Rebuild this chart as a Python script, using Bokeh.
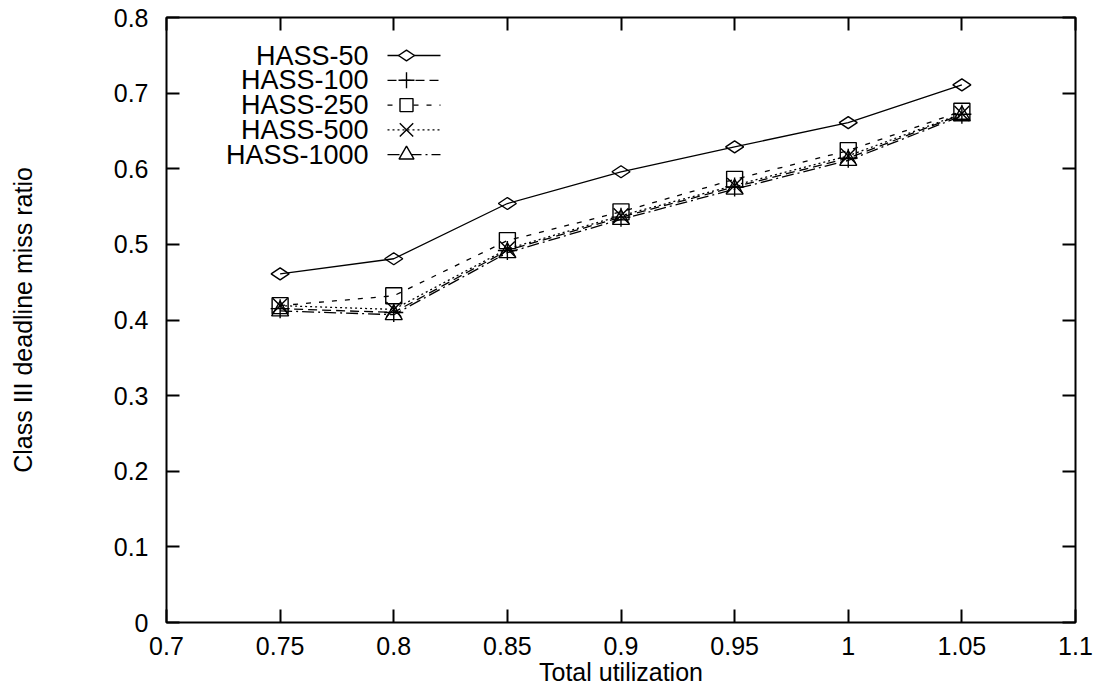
from bokeh.plotting import figure
from bokeh.models import (LinearAxis, FixedTicker, NumeralTickFormatter, Range1d,
                          Label, CustomLabelingPolicy)
from bokeh.embed import file_html
from bokeh.resources import INLINE
import math

# ---- data ----
utilization = [0.75, 0.80, 0.85, 0.90, 0.95, 1.00, 1.05]
hass_50 = [0.461, 0.481, 0.554, 0.596, 0.629, 0.661, 0.711]
hass_100 = [0.415, 0.410, 0.492, 0.536, 0.576, 0.614, 0.672]
hass_250 = [0.419, 0.432, 0.505, 0.543, 0.586, 0.624, 0.676]
hass_500 = [0.419, 0.414, 0.494, 0.538, 0.578, 0.617, 0.673]
hass_1000 = [0.412, 0.407, 0.489, 0.533, 0.573, 0.611, 0.670]
series_names = ["HASS-50", "HASS-100", "HASS-250", "HASS-500", "HASS-1000"]
x_ticks = [0.7, 0.75, 0.8, 0.85, 0.9, 0.95, 1.0, 1.05, 1.1]
y_ticks = [0, 0.1, 0.2, 0.3, 0.4, 0.5, 0.6, 0.7, 0.8]

FONT = "Liberation Sans"
FS = "25px"
FRAME_W, FRAME_H = 909, 605

p = figure(frame_width=FRAME_W, frame_height=FRAME_H,
           x_range=Range1d(0.7, 1.1), y_range=Range1d(0, 0.8),
           output_backend="svg", toolbar_location=None,
           min_border_left=166, min_border_right=26,
           min_border_top=17, min_border_bottom=66)
p.xgrid.visible = False
p.ygrid.visible = False
p.outline_line_color = "black"
p.outline_line_width = 2
p.background_fill_color = "white"
p.border_fill_color = "white"

# pixel-like coordinate system (origin at top-left of the frame) for the legend
p.extra_x_ranges = {"px": Range1d(0, FRAME_W)}
p.extra_y_ranges = {"px": Range1d(FRAME_H, 0)}

no_labels = CustomLabelingPolicy(code="for (const i of indices) { indices.unset(i) }\nreturn indices")

def style_axis(ax, labels=True):
    ax.axis_line_color = None
    ax.major_tick_in = 13
    ax.major_tick_out = 0
    ax.major_tick_line_width = 2
    ax.major_tick_line_color = "black"
    ax.minor_tick_line_color = None
    ax.major_label_text_font = FONT
    ax.major_label_text_font_size = FS
    ax.major_label_text_color = "black"
    ax.axis_label_text_font = FONT
    ax.axis_label_text_font_size = FS
    ax.axis_label_text_font_style = "normal"
    ax.axis_label_text_color = "black"
    if not labels:
        ax.major_label_policy = no_labels
        ax.major_label_standoff = 0
        ax.major_label_text_font_size = "1px"

xa = p.xaxis[0]
xa.ticker = FixedTicker(ticks=x_ticks)
xa.formatter = NumeralTickFormatter(format="0.[00]")
xa.axis_label = "Total utilization"
style_axis(xa)
xa.major_label_standoff = 14
xa.axis_label_standoff = 0

ya = p.yaxis[0]
ya.ticker = FixedTicker(ticks=y_ticks)
ya.formatter = NumeralTickFormatter(format="0.[0]")
ya.axis_label = "Class III deadline miss ratio"
style_axis(ya)
ya.major_label_standoff = 18
ya.axis_label_standoff = 74

top = LinearAxis(ticker=FixedTicker(ticks=x_ticks))
style_axis(top, labels=False)
p.add_layout(top, "above")
right = LinearAxis(ticker=FixedTicker(ticks=y_ticks))
style_axis(right, labels=False)
p.add_layout(right, "right")

styles = [
    dict(dash="solid", marker="diamond", size=18, lsize=16, angle=math.pi / 2),
    dict(dash="9 5", marker="cross", size=19, lsize=16, angle=0),
    dict(dash="5 8", marker="square", size=16, lsize=13, angle=0),
    dict(dash="2 3", marker="x", size=21, lsize=19, angle=0),
    dict(dash="12 4 2 4", marker="triangle", size=17, lsize=15, angle=0),
]
all_series = [hass_50, hass_100, hass_250, hass_500, hass_1000]

for name, ys, st in zip(series_names, all_series, styles):
    p.line(utilization, ys, line_color="black", line_width=1.3,
           line_dash=st["dash"])
    p.scatter(utilization, ys, marker=st["marker"], size=st["size"],
              angle=st["angle"], fill_color=None, line_color="black",
              line_width=1.4)

# ---- legend (label left, sample right), laid out in frame pixels ----
LEG_TOP, LEG_STEP = 38, 24.8
LEG_X0, LEG_X1, LEG_MK, LEG_TXT = 221, 274, 240, 202
for i, (name, st) in enumerate(zip(series_names, styles)):
    cy = LEG_TOP + LEG_STEP * i
    p.line([LEG_X0, LEG_X1], [cy, cy], line_color="black", line_width=1.3,
           line_dash=st["dash"], x_range_name="px", y_range_name="px")
    p.scatter([LEG_MK], [cy], marker=st["marker"], size=st["lsize"],
              angle=st["angle"], fill_color="white", line_color="black",
              line_width=1.4, x_range_name="px", y_range_name="px")
    p.add_layout(Label(x=LEG_TXT, y=FRAME_H - cy, x_units="screen", y_units="screen",
                       text=name, text_align="right", text_baseline="middle",
                       text_font=FONT, text_font_size="27px",
                       text_color="black"))

open("out.html", "w").write(file_html(p, INLINE))
